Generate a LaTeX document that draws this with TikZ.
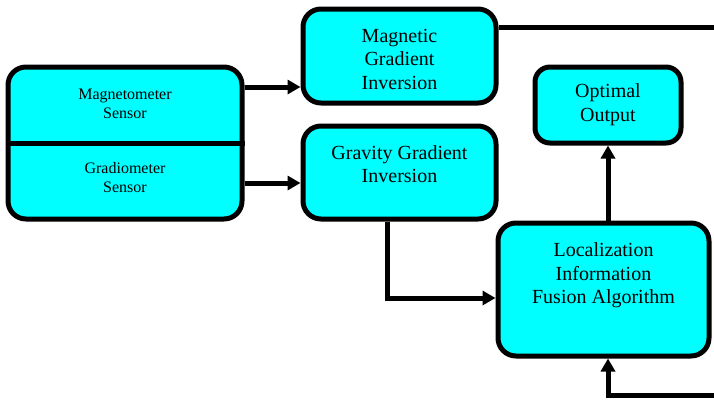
\documentclass[tikz,border=0pt]{standalone}
\usepackage{fontspec}
\setmainfont{Liberation Serif}
\usetikzlibrary{arrows.meta}
\definecolor{boxfill}{RGB}{0,255,255}
\begin{document}
\begin{tikzpicture}[x=1pt,y=-1pt,
  blk/.style={draw=black, line width=5pt, fill=boxfill, rounded corners=18pt, inner sep=0pt},
  lbl/.style={align=center, font=\fontsize{20}{23.5}\selectfont, inner sep=0pt},
  slbl/.style={align=center, font=\fontsize{16}{19}\selectfont, inner sep=0pt},
  link/.style={line width=5pt, -{Triangle[length=13pt,width=14pt]}},
  wire/.style={line width=5pt}]
\useasboundingbox (0,0) rectangle (714,399);

% blocks
\node[blk, minimum width=234pt, minimum height=152pt] (sensors) at (125,143) {};
\node[blk, minimum width=193pt, minimum height=94pt] (magInv) at (399.5,56) {};
\node[blk, minimum width=193pt, minimum height=93pt] (gravInv) at (399.5,172.5) {};
\node[blk, minimum width=146pt, minimum height=76pt, rounded corners=15pt] (opt) at (608,105) {};
\node[blk, minimum width=211pt, minimum height=133pt] (fusion) at (603.5,289.5) {};

% divider inside the sensor block
\coordinate (split) at (0,143);
\draw[wire] (sensors.west |- split) -- (sensors.east |- split);

% texts
\node[slbl] (tMag) at (125,104) {Magnetometer\\Sensor};
\node[slbl] (tGrad) at (125,178) {Gradiometer\\Sensor};
\node[lbl] (tMagInv) at (399.5,59) {Magnetic\\Gradient\\Inversion};
\node[lbl] (tGravInv) at (399.5,164) {Gravity Gradient\\Inversion};
\node[lbl] (tOpt) at (608,104.5) {Optimal\\Output};
\node[lbl] (tFus) at (603.5,275.5) {Localization\\Information\\Fusion Algorithm};

% connectors
\coordinate (rowA) at (0,87);
\coordinate (rowB) at (0,183);
\draw[link] (sensors.east |- rowA) -- (magInv.west |- rowA);
\draw[link] (sensors.east |- rowB) -- (gravInv.west |- rowB);

\coordinate (turnA) at (387,298);
\draw[link] (gravInv.south -| turnA) |- (fusion.west |- turnA);

\draw[link] (fusion.north -| opt.south) -- (opt.south);

\coordinate (outR) at (714,27);
\draw[wire] (magInv.east |- outR) -- (outR);

\coordinate (inR) at (714,395);
\draw[link] (inR) -| (fusion.south -| opt.south);
\end{tikzpicture}
\end{document}
